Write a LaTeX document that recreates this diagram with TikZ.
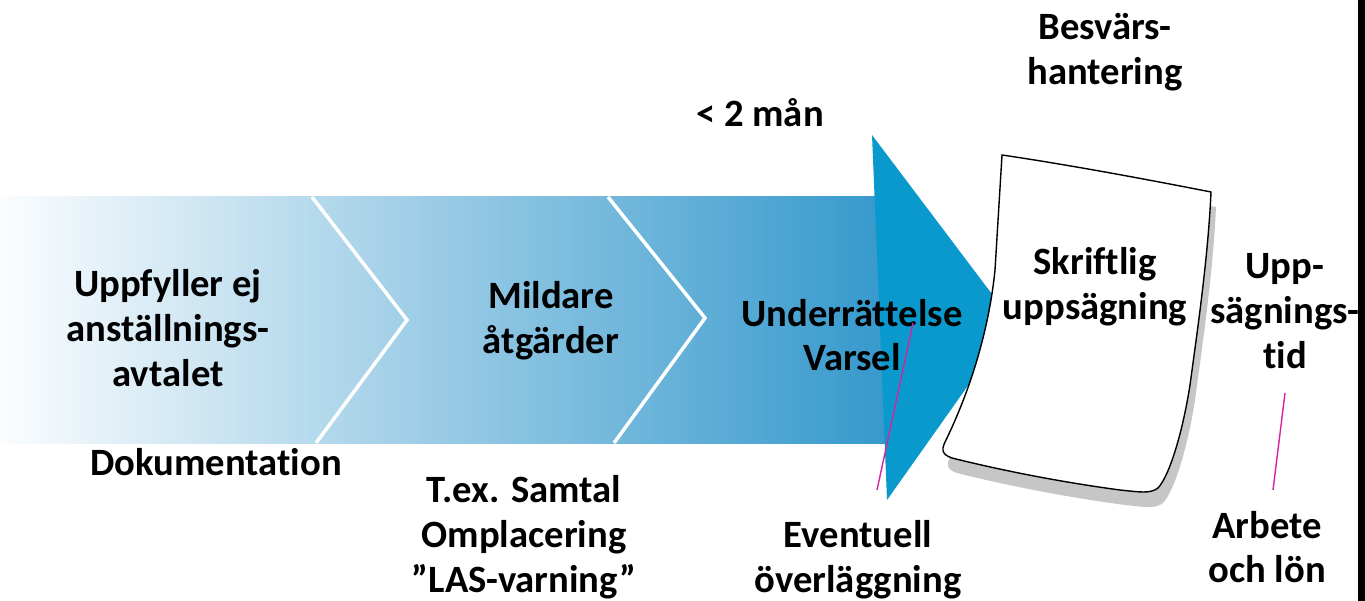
\documentclass[tikz,border=0pt]{standalone}
\usepackage{fontspec}
\setmainfont[Ligatures=NoCommon]{Carlito}
\definecolor{arrowblue}{RGB}{10,153,204}
\definecolor{bandmid}{RGB}{160,200,228}
\definecolor{bandend}{RGB}{52,152,204}
\definecolor{notepink}{RGB}{214,36,160}
\tikzset{
  lbl/.style={font=\bfseries\fontsize{22}{25.5}\selectfont, align=center, inner sep=0pt},
  sep/.style={white, line width=2pt, line join=miter},
  note/.style={notepink, line width=0.8pt},
  page/.style={draw=black, fill=white, line width=0.8pt},
}

\begin{document}
\begin{tikzpicture}[x=0.02cm,y=-0.02cm]
		\useasboundingbox (0,0) rectangle (1365,601);
		\fill[white] (0,0) rectangle (1365,601);
		\shade[left color=white!96!bandmid, middle color=bandmid, right color=bandend] (0,197) rectangle (895,443); %Band
		\draw[sep] (312,197) -- (407,320) -- (316,443);
		\draw[sep] (608,197) -- (705,318) -- (614,443);
		\fill[arrowblue] (872,135) -- (1013,322) -- (887,500) -- cycle; %Head
		% paper sheet
		\fill[gray!45, shift={(5,15)}] (1002,155) .. controls (1070,165) and (1150,180) .. (1211,192)
			.. controls (1208,260) and (1196,340) .. (1190,385)
			.. controls (1183,430) and (1170,475) .. (1158,488)
			.. controls (1150,494) and (1140,492) .. (1120,490)
			.. controls (1060,482) and (1000,470) .. (952,458)
			.. controls (940,454) and (942,448) .. (946,440)
			.. controls (975,380) and (990,320) .. (995,270) -- cycle;
		\draw[page] (1002,155) .. controls (1070,165) and (1150,180) .. (1211,192)
			.. controls (1208,260) and (1196,340) .. (1190,385)
			.. controls (1183,430) and (1170,475) .. (1158,488)
			.. controls (1150,494) and (1140,492) .. (1120,490)
			.. controls (1060,482) and (1000,470) .. (952,458)
			.. controls (940,454) and (942,448) .. (946,440)
			.. controls (975,380) and (990,320) .. (995,270) -- cycle;
		\fill[black] (1358,0) rectangle (1365,601);
		% texts
		\node[lbl] (besvar) at (1105,52) {Besvärs-\\hantering};
		\node[lbl] (mindre) at (760,113) {< 2 mån};
		\node[lbl] (uppfyller) at (168,328) {Uppfyller ej\\anställnings-\\avtalet};
		\node[lbl] (mildare) at (551,321) {Mildare\\åtgärder};
		\node[lbl] (varsel) at (852,335) {Underrättelse\\Varsel};
		\node[lbl] (skriftlig) at (1095,287) {Skriftlig\\uppsägning};
		\node[lbl] (uppsag) at (1285,311) {Upp-\\sägnings-\\tid};
		\node[lbl] (dok) at (216,462) {Dokumentation};
		\node[lbl] (samtal) at (524,537) {T.ex. Samtal\\Omplacering\\”LAS-varning”};
		\node[lbl] (overlagg) at (858,560) {Eventuell\\överläggning};
		\node[lbl] (arbete) at (1267,547) {Arbete\\och lön};
		% pink notes
		\coordinate (n1a) at (913,323);
		\coordinate (n1b) at (877,490);
		\coordinate (n2a) at (1285,393);
		\coordinate (n2b) at (1273,490);
		\draw[note] (n1a) -- (n1b);
		\draw[note] (n2a) -- (n2b);
	\end{tikzpicture}
\end{document}
